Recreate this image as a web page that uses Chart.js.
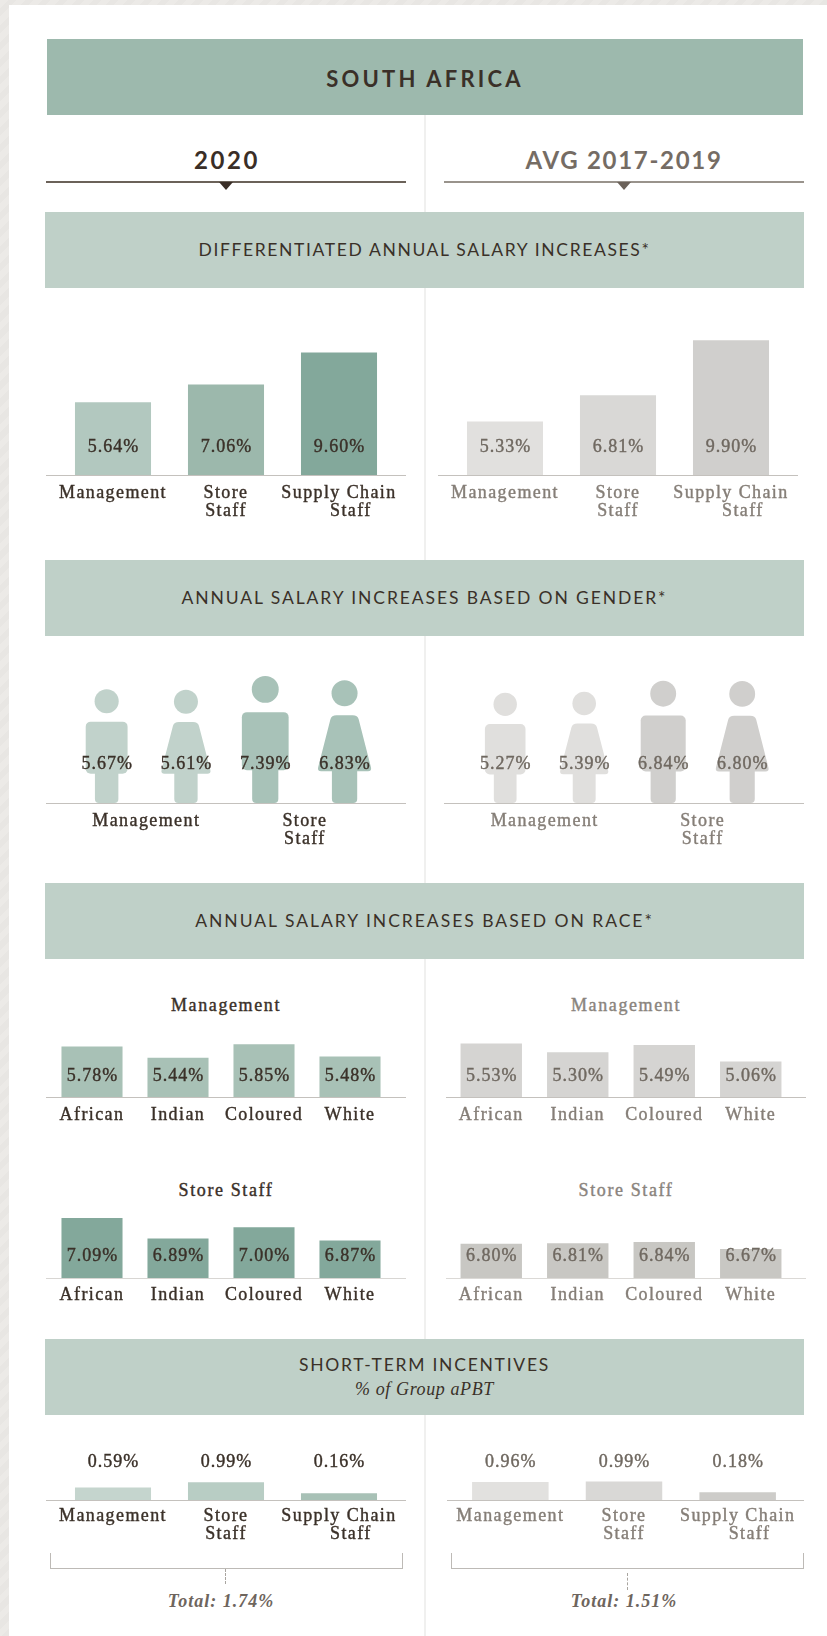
<!DOCTYPE html>
<html>
<head>
<meta charset="utf-8">
<title>South Africa</title>
<script src="https://cdn.jsdelivr.net/npm/chart.js@4"></script>
<style>
  html, body { margin: 0; padding: 0; }
  body {
    width: 827px; height: 1636px; position: relative; overflow: hidden;
    background: repeating-linear-gradient(135deg, #eceae7 0 6px, #e8e6e3 6px 12px);
  }
  #sheet { position: absolute; left: 9px; top: 5px; right: 0; bottom: 0; background: #fff; }
  #divider { position: absolute; left: 424px; top: 115px; width: 2px; bottom: 0; background: #f0f0ef; }
  .band {
    position: absolute; left: 45px; width: 759px; background: #bfd0c8; color: #3a3028;
    display: flex; flex-direction: column; align-items: center; justify-content: center;
    font-family: Lato, sans-serif; font-size: 17.5px; line-height: 24px;
  }
  .band i { font-family: "Liberation Serif", serif; font-size: 18px; letter-spacing: 0.6px; }
  #topband {
    left: 47px; width: 756px; top: 39px; height: 73px; padding-top: 3px; background: #9db9ad;
    font-size: 22px; font-weight: 700; letter-spacing: 3.2px;
  }
  .period { position: absolute; top: 145px; font: 700 24px Lato, sans-serif; text-align: center; }
  .rule { position: absolute; top: 181px; height: 2px; }
  .tri { position: absolute; top: 182px; width: 0; height: 0; border-left: 7px solid transparent; border-right: 7px solid transparent; }
  .sub { position: absolute; font: 18px "Liberation Serif", serif; letter-spacing: 1.6px; text-align: center; width: 360px; -webkit-text-stroke: 0.4px currentColor; }
  .total { position: absolute; top: 1591px; width: 360px; text-align: center; font: italic 700 18px "Liberation Serif", serif; letter-spacing: 1px; color: #6e655d; }
  .bracket { position: absolute; top: 1553px; height: 15px; border: 1px solid #bdbab6; border-top: 0; }
  .dash { position: absolute; width: 0; border-left: 1px dashed #a9a5a0; }
  canvas { position: absolute; }
</style>
</head>
<body>
<div id="sheet"></div>
<div id="divider"></div>

<div class="band" id="topband">SOUTH AFRICA</div>
<div class="period" style="left:47px;width:360px;color:#3a2e27;letter-spacing:2.6px">2020</div>
<div class="period" style="left:444px;width:360px;color:#756c64;letter-spacing:1.7px">AVG 2017-2019</div>
<div class="rule" style="left:46px;width:360px;background:#6b6259"></div>
<div class="rule" style="left:444px;width:360px;background:#99938c"></div>
<div class="tri" style="left:219px;border-top:8px solid #3a2e27"></div>
<div class="tri" style="left:617px;border-top:8px solid #6b625a"></div>

<div class="band" style="top:212px;height:76px;letter-spacing:1.63px">DIFFERENTIATED ANNUAL SALARY INCREASES*</div>
<div class="band" style="top:560px;height:76px;letter-spacing:1.9px">ANNUAL SALARY INCREASES BASED ON GENDER*</div>
<div class="band" style="top:883px;height:76px;letter-spacing:1.98px">ANNUAL SALARY INCREASES BASED ON RACE*</div>
<div class="band" style="top:1339px;height:76px;letter-spacing:1.75px">SHORT-TERM INCENTIVES<i>% of Group aPBT</i></div>

<div class="sub" style="left:46px;top:995px;color:#3a3028">Management</div>
<div class="sub" style="left:446px;top:995px;color:#8a847d">Management</div>
<div class="sub" style="left:46px;top:1180px;color:#3a3028">Store Staff</div>
<div class="sub" style="left:446px;top:1180px;color:#8a847d">Store Staff</div>

<div class="bracket" style="left:50px;width:351px"></div>
<div class="bracket" style="left:451px;width:351px"></div>
<div class="dash" style="left:225px;top:1569px;height:15px"></div>
<div class="dash" style="left:627px;top:1573px;height:17px"></div>
<div class="total" style="left:41px">Total: 1.74%</div>
<div class="total" style="left:444px">Total: 1.51%</div>

<script>
// categories
const jobLabels = ['Management', ['Store', 'Staff'], ['Supply Chain', '    Staff']];
const genderLabels = ['Man', 'Woman', 'Man', 'Woman'];
const genderGroups = ['Management', ['Store', 'Staff']];
const raceLabels = ['African', 'Indian', 'Coloured', 'White'];

// Differentiated annual salary increases
const diff2020 = [5.64, 7.06, 9.60];
const diffAvg = [5.33, 6.81, 9.90];

// Based on gender
const gender2020 = [5.67, 5.61, 7.39, 6.83];
const genderAvg = [5.27, 5.39, 6.84, 6.80];

// Based on race
const raceMgmt2020 = [5.78, 5.44, 5.85, 5.48];
const raceMgmtAvg = [5.53, 5.30, 5.49, 5.06];
const raceStore2020 = [7.09, 6.89, 7.00, 6.87];
const raceStoreAvg = [6.80, 6.81, 6.84, 6.67];

// Short-term incentives
const sti2020 = [0.59, 0.99, 0.16];
const stiAvg = [0.96, 0.99, 0.18];

const serif = '"Liberation Serif", serif';
const darkText = '#3a3028';
const greyTick = '#857e77';
const greyValue = '#6f6860';

// person shape for the gender charts, scaled to the bar it replaces
function drawPerson(ctx, x, top, base, isWoman) {
  const h = base - top;
  const r = h * 0.106;
  ctx.beginPath();
  ctx.arc(x, top + r, r, 0, Math.PI * 2);
  ctx.fill();
  const bodyTop = top + h * 0.285;
  const bodyBottom = top + h * 0.742;
  const leg = h * 0.103;
  ctx.beginPath();
  ctx.roundRect(x - leg, bodyBottom - 5, leg * 2, base - bodyBottom + 5, 4);
  ctx.fill();
  ctx.beginPath();
  if (isWoman) {
    const topW = h * 0.115;
    const botW = h * 0.215;
    ctx.moveTo(x - topW, bodyTop + 4);
    ctx.quadraticCurveTo(x - topW + 1, bodyTop, x - topW + 6, bodyTop);
    ctx.lineTo(x + topW - 6, bodyTop);
    ctx.quadraticCurveTo(x + topW - 1, bodyTop, x + topW, bodyTop + 4);
    ctx.lineTo(x + botW, bodyBottom - 4);
    ctx.quadraticCurveTo(x + botW + 1, bodyBottom, x + botW - 3, bodyBottom);
    ctx.lineTo(x - botW + 3, bodyBottom);
    ctx.quadraticCurveTo(x - botW - 1, bodyBottom, x - botW, bodyBottom - 4);
    ctx.closePath();
  } else {
    const w = h * 0.184;
    ctx.roundRect(x - w, bodyTop, w * 2, bodyBottom - bodyTop, 5);
  }
  ctx.fill();
}

const sheetPlugin = {
  id: 'sheet',
  beforeDraw(chart) {
    chart.ctx.letterSpacing = '1.4px';
  },
  // axis line runs the full width of the canvas
  beforeDatasetsDraw(chart, args, opts) {
    const ctx = chart.ctx;
    const y = chart.chartArea.bottom;
    ctx.save();
    ctx.strokeStyle = opts.lineColor;
    ctx.lineWidth = 1;
    ctx.beginPath();
    ctx.moveTo(0, y + 0.5);
    ctx.lineTo(chart.width, y + 0.5);
    ctx.stroke();
    ctx.restore();
  },
  afterDatasetsDraw(chart, args, opts) {
    const ctx = chart.ctx;
    const meta = chart.getDatasetMeta(0);
    const values = chart.data.datasets[0].data;
    ctx.save();
    meta.data.forEach((bar, i) => {
      if (opts.people) {
        ctx.fillStyle = opts.people[i];
        drawPerson(ctx, bar.x, bar.y, bar.base, i % 2 === 1);
      }
    });
    ctx.font = '18px ' + serif;
    ctx.letterSpacing = '1px';
    ctx.textAlign = 'center';
    ctx.textBaseline = 'middle';
    ctx.fillStyle = opts.valueColor;
    ctx.strokeStyle = opts.valueColor;
    ctx.lineWidth = 0.4;
    meta.data.forEach((bar, i) => {
      const label = values[i].toFixed(2) + '%';
      const y = chart.chartArea.bottom - opts.valueOffset;
      ctx.strokeText(label, bar.x + 0.5, y);
      ctx.fillText(label, bar.x + 0.5, y);
    });
    ctx.restore();
  }
};
Chart.register(sheetPlugin);

// one canvas per small chart. left/right = x range of the axis line, plotLeft/plotRight = category band
function addChart(c) {
  const plotH = c.plotH;
  const below = 64;
  const canvas = document.createElement('canvas');
  canvas.width = c.right - c.left;
  canvas.height = plotH + below;
  canvas.style.left = c.left + 'px';
  canvas.style.top = (c.baseY - plotH) + 'px';
  document.body.appendChild(canvas);

  const tickFont = { family: serif, size: 18, lineHeight: 1 };
  const tickColor = c.grey ? greyTick : darkText;
  const labelAxis = {
    type: 'category',
    position: 'bottom',
    grid: { display: false, drawTicks: false },
    border: { display: false },
    ticks: {
      color: tickColor, font: tickFont, padding: c.tickPad || 9,
      textStrokeColor: tickColor, textStrokeWidth: 0.4,
      autoSkip: false, maxRotation: 0, minRotation: 0
    },
    afterFit(scale) { scale.height = below; }
  };
  const scales = {
    y: { display: false, min: c.yMin, max: c.yMin + plotH / c.pxPerUnit }
  };
  if (c.groups) {
    scales.x = { display: false };
    scales.xGroups = Object.assign({}, labelAxis, { labels: c.groups });
  } else {
    scales.x = labelAxis;
  }

  new Chart(canvas, {
    type: 'bar',
    data: {
      labels: c.labels,
      datasets: [{
        data: c.values,
        base: c.yMin,
        backgroundColor: c.people ? 'rgba(0,0,0,0)' : c.colors,
        barPercentage: c.barPct || 1,
        categoryPercentage: 1
      }]
    },
    options: {
      responsive: false,
      animation: false,
      layout: { padding: { left: c.plotLeft - c.left, right: c.right - c.plotRight, top: 0, bottom: 0 } },
      plugins: {
        legend: { display: false },
        title: { display: false },
        tooltip: { enabled: false },
        sheet: {
          lineColor: c.lineColor || '#c4c1bd',
          valueColor: c.grey ? greyValue : darkText,
          valueOffset: c.valueOffset,
          people: c.people
        }
      },
      scales: scales
    }
  });
}

// -------------------------------Differentiated
addChart({ left: 46, right: 406, plotLeft: 56.5, plotRight: 395.5, baseY: 475, plotH: 140, labels: jobLabels, values: diff2020,
  yMin: -0.13, pxPerUnit: 12.6, barPct: 0.673, valueOffset: 28, colors: ['#b2c8bf', '#9cb8ac', '#83a89b'] });
addChart({ left: 438, right: 798, plotLeft: 448.5, plotRight: 787.5, baseY: 475, plotH: 140, labels: jobLabels, values: diffAvg, grey: true,
  yMin: 2.32, pxPerUnit: 17.78, barPct: 0.673, valueOffset: 28, colors: ['#e1e0de', '#d9d8d6', '#d0cfcd'] });

// -------------------------------Gender
addChart({ left: 46, right: 406, plotLeft: 67, plotRight: 384.2, baseY: 803, plotH: 140, labels: genderLabels, groups: genderGroups, values: gender2020,
  yMin: -9.07, pxPerUnit: 7.72, barPct: 0.5, valueOffset: 39, people: ['#c1d2cb', '#c1d2cb', '#a8c2b8', '#a8c2b8'] });
addChart({ left: 444, right: 804, plotLeft: 465.7, plotRight: 781.7, baseY: 803, plotH: 140, labels: genderLabels, groups: genderGroups, values: genderAvg, grey: true,
  yMin: -9.23, pxPerUnit: 7.61, barPct: 0.5, valueOffset: 39, people: ['#e0dfdd', '#e0dfdd', '#d0cfcd', '#d0cfcd'] });

// -------------------------------Race
addChart({ left: 46, right: 406, plotLeft: 49, plotRight: 393, baseY: 1097, plotH: 80, labels: raceLabels, values: raceMgmt2020,
  yMin: 4.272, pxPerUnit: 33.5, barPct: 0.71, valueOffset: 21, colors: '#a8c1b6' });
addChart({ left: 446, right: 806, plotLeft: 448, plotRight: 794, baseY: 1097, plotH: 80, labels: raceLabels, values: raceMgmtAvg, grey: true,
  yMin: 4.134, pxPerUnit: 38.4, barPct: 0.71, valueOffset: 21, colors: '#d5d4d2' });
addChart({ left: 46, right: 406, plotLeft: 49, plotRight: 393, baseY: 1278, plotH: 80, labels: raceLabels, values: raceStore2020,
  yMin: 6.506, pxPerUnit: 102.9, barPct: 0.71, valueOffset: 22, lineColor: '#d8d6d3', tickPad: 8, colors: '#83a89b' });
addChart({ left: 446, right: 806, plotLeft: 448, plotRight: 794, baseY: 1278, plotH: 80, labels: raceLabels, values: raceStoreAvg, grey: true,
  yMin: 5.979, pxPerUnit: 41.8, barPct: 0.71, valueOffset: 22, lineColor: '#dbd9d6', tickPad: 8, colors: '#c8c7c3' });

// -------------------------------Short-term incentives
addChart({ left: 46, right: 406, plotLeft: 56.5, plotRight: 395.5, baseY: 1500, plotH: 60, labels: jobLabels, values: sti2020,
  yMin: -0.357, pxPerUnit: 13.2, barPct: 0.673, valueOffset: 38, tickPad: 7, colors: ['#c5d5ce', '#b8cdc4', '#a8c1b6'] });
addChart({ left: 447, right: 804, plotLeft: 453.5, plotRight: 794.5, baseY: 1500, plotH: 60, labels: jobLabels, values: stiAvg, grey: true,
  yMin: -0.403, pxPerUnit: 13.2, barPct: 0.673, valueOffset: 38, tickPad: 7, colors: ['#e2e1df', '#d9d8d6', '#cdccc9'] });
</script>
</body>
</html>
